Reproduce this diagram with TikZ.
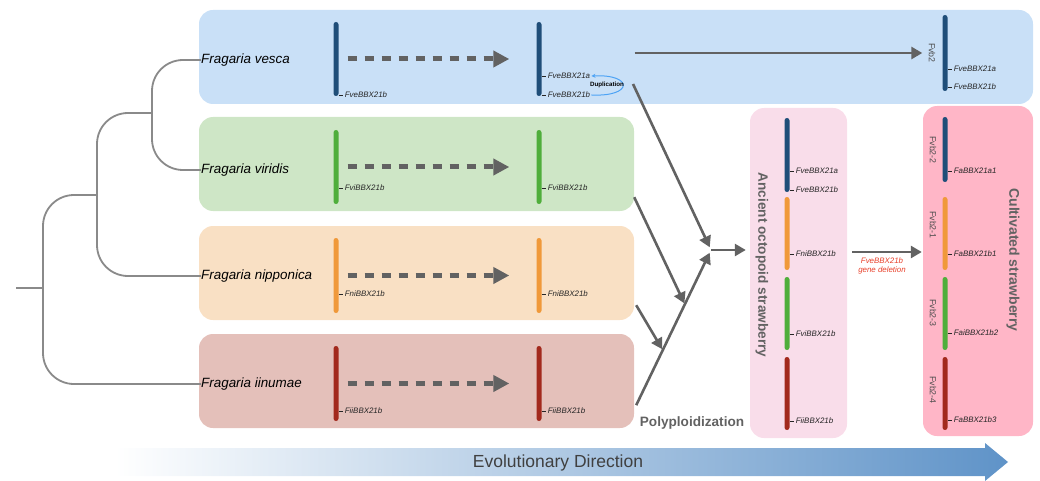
\documentclass[tikz,border=0pt]{standalone}
\usepackage{fontspec}
\setmainfont{Liberation Sans}
\usetikzlibrary{arrows.meta,calc,positioning}
\definecolor{cve}{HTML}{1F4E79}
\definecolor{cvi}{HTML}{4FAE3B}
\definecolor{cni}{HTML}{F0993A}
\definecolor{cii}{HTML}{A2291D}
\definecolor{pbve}{HTML}{C9E0F7}
\definecolor{pbvi}{HTML}{CEE6C6}
\definecolor{pbni}{HTML}{F9E0C4}
\definecolor{pbii}{HTML}{E4C0BA}
\definecolor{pban}{HTML}{F9DDEA}
\definecolor{pbcu}{HTML}{FFB6C7}
\definecolor{arrgray}{HTML}{626262}
\definecolor{treegray}{HTML}{8A8A8A}
\definecolor{dupblue}{HTML}{4DA3F5}
\definecolor{delred}{HTML}{E8402A}
\definecolor{evob}{HTML}{5F93C8}
\tikzset{
  panel/.style={rectangle, rounded corners=14pt, draw=none, inner sep=0pt},
  chrom/.style={rectangle, rounded corners=2.5pt, minimum width=5pt, inner sep=0pt},
  species/.style={anchor=west, inner sep=0pt, font=\fontsize{13.4}{15}\selectfont\itshape},
  gene/.style={anchor=west, inner sep=0pt, text=black!85, font=\fontsize{7.9}{9}\selectfont\itshape},
  gtick/.style={line width=0.8pt, black!85},
  chrlab/.style={inner sep=0pt, text=black!70, font=\fontsize{8.8}{10}\selectfont},
  title/.style={inner sep=0pt, text=arrgray, font=\fontsize{13.6}{15}\selectfont\bfseries},
  tree/.style={line width=1.8pt, treegray, rounded corners=31pt},
  arr/.style={line width=2.6pt, arrgray, -{Triangle[length=11pt,width=12pt]}},
  dasharr/.style={line width=5pt, arrgray, dash pattern=on 9pt off 8pt,
    -{Triangle[length=16pt,width=16pt]}, shorten <=9pt, shorten >=27pt},
  dup/.style={line width=1pt, dupblue, -{Stealth[length=4pt,width=4pt]}}
}
\newcommand\genelabel[3]{\draw[gtick] (#1) -- ++(4,0) node[gene, right=2pt] (#3) {#2};}
\begin{document}
\begin{tikzpicture}[x=1pt, y=-1pt]
\useasboundingbox (0,0) rectangle (1040,481);
\node[panel, fill=pbve, minimum width=834pt, minimum height=94pt] (pve) at (616,57) {};
\node[panel, fill=pbvi, minimum width=435pt, minimum height=94pt] (pvi) at (416.5,164) {};
\node[panel, fill=pbni, minimum width=435pt, minimum height=94pt] (pni) at (416.5,273) {};
\node[panel, fill=pbii, minimum width=435pt, minimum height=94pt] (pii) at (416.5,381) {};
\node[panel, fill=pban, minimum width=97pt, minimum height=330pt] (pan) at (798.5,273) {};
\node[panel, fill=pbcu, minimum width=110pt, minimum height=330pt] (pcu) at (978,271) {};

\node[species] (vesca) at (201,60) {Fragaria vesca};
\node[species] (viridis) at (201,170) {Fragaria viridis};
\node[species] (nipponica) at (201,276) {Fragaria nipponica};
\node[species] (iinumae) at (201,384) {Fragaria iinumae};

\coordinate (t1) at (152,113);
\coordinate (t2) at (97,195);
\coordinate (t3) at (43,288);
\coordinate (root) at (16,288);
\draw[tree] (vesca.west) -| (viridis.west -| t1) -- (viridis.west);
\draw[tree] (t1) -| (nipponica.west -| t2) -- (nipponica.west);
\draw[tree] (t2) -| (iinumae.west -| t3) -- (iinumae.west);
\draw[tree] (t3) -- (root);

\node[chrom, fill=cve, minimum height=74pt] (ve1) at (336,59) {};
\node[chrom, fill=cve, minimum height=74pt] (ve2) at (539,59) {};
\node[chrom, fill=cve, minimum height=76pt] (ve3) at (945,53) {};
\node[chrom, fill=cvi, minimum height=74pt] (vi1) at (336,167) {};
\node[chrom, fill=cvi, minimum height=74pt] (vi2) at (539,167) {};
\node[chrom, fill=cni, minimum height=75pt] (ni1) at (336,275.5) {};
\node[chrom, fill=cni, minimum height=75pt] (ni2) at (539,275.5) {};
\node[chrom, fill=cii, minimum height=75pt] (ii1) at (336,383.5) {};
\node[chrom, fill=cii, minimum height=75pt] (ii2) at (539,383.5) {};
\node[chrom, fill=cve, minimum height=74pt] (an1) at (787,155) {};
\node[chrom, fill=cni, minimum height=73pt] (an2) at (787,233.5) {};
\node[chrom, fill=cvi, minimum height=73pt] (an3) at (787,313.5) {};
\node[chrom, fill=cii, minimum height=73pt] (an4) at (787,393.5) {};
\node[chrom, fill=cve, minimum height=65pt] (cu1) at (945,149.5) {};
\node[chrom, fill=cni, minimum height=73pt] (cu2) at (945,233.5) {};
\node[chrom, fill=cvi, minimum height=73pt] (cu3) at (945,313.5) {};
\node[chrom, fill=cii, minimum height=73pt] (cu4) at (945,393.5) {};

\genelabel{338.5,95}{FveBBX21b}{g-ve1}
\genelabel{541.5,76}{FveBBX21a}{g-ve2a}
\genelabel{541.5,95}{FveBBX21b}{g-ve2b}
\genelabel{947.5,69}{FveBBX21a}{g-ve3a}
\genelabel{947.5,87}{FveBBX21b}{g-ve3b}
\genelabel{338.5,188}{FviBBX21b}{g-vi1}
\genelabel{541.5,188}{FviBBX21b}{g-vi2}
\genelabel{338.5,294}{FniBBX21b}{g-ni1}
\genelabel{541.5,294}{FniBBX21b}{g-ni2}
\genelabel{338.5,411}{FiiBBX21b}{g-ii1}
\genelabel{541.5,411}{FiiBBX21b}{g-ii2}
\genelabel{789.5,171}{FveBBX21a}{g-an1a}
\genelabel{789.5,190}{FveBBX21b}{g-an1b}
\genelabel{789.5,254}{FniBBX21b}{g-an2}
\genelabel{789.5,334}{FviBBX21b}{g-an3}
\genelabel{789.5,421}{FiiBBX21b}{g-an4}
\genelabel{947.5,171}{FaBBX21a1}{g-cu1}
\genelabel{947.5,254}{FaBBX21b1}{g-cu2}
\genelabel{947.5,333}{FaiBBX21b2}{g-cu3}
\genelabel{947.5,420}{FaBBX21b3}{g-cu4}

\node[chrlab, rotate=-90] (fvb2) at (932,53) {Fvb2};
\node[chrlab, rotate=-90] (fvb22) at (933,150) {Fvb2-2};
\node[chrlab, rotate=-90] (fvb21) at (933,225) {Fvb2-1};
\node[chrlab, rotate=-90] (fvb23) at (933,313) {Fvb2-3};
\node[chrlab, rotate=-90] (fvb24) at (933,390) {Fvb2-4};

\draw[dasharr] (ve1) -- (ve2);
\draw[dasharr] (vi1) -- (vi2);
\draw[dasharr] (ni1) -- (ni2);
\draw[dasharr] (ii1) -- (ii2);
\draw[arr, line width=2.8pt, shorten <=93pt, shorten >=20pt] (ve2.east |- ve3) -- (ve3);

\draw[dup] ([xshift=1pt]g-ve2b.east) .. controls +(42,2) and +(42,-2) .. ([xshift=1pt]g-ve2a.east);
\node[inner sep=0pt, font=\fontsize{6.2}{7}\selectfont\bfseries] (dupl) at (607,84.5) {Duplication};

\coordinate (ve-out) at (633,84);
\coordinate (merge) at (711,250);
\coordinate (ii-out) at ([shift={(2,-23)}]pii.south east);
\draw[arr, shorten >=3pt] (ve-out) -- (merge);
\draw[arr, shorten >=3pt] (ii-out) -- (merge);
\draw[arr, shorten >=1pt] ([shift={(0,-14)}]pvi.south east) -- ($(ii-out)!0.65!(merge)$);
\draw[arr, shorten >=1pt] ([shift={(2,-15)}]pni.south east) -- ($(ii-out)!0.355!(merge)$);
\draw[arr] (merge) -- ([shift={(-4,-23)}]pan.west);
\node[title] (poly) at (692,423) {Polyploidization};
\node[title, rotate=-90] (ancient) at (762,265) {Ancient octopoid strawberry};
\node[title, rotate=-90, font=\fontsize{14}{16}\selectfont\bfseries] (cultivated) at (1013,260) {Cultivated strawberry};

\draw[arr] ([shift={(5,-21)}]pan.east) -- ([shift={(-1,-19)}]pcu.west);
\node[inner sep=0pt, align=center, text=delred, font=\fontsize{7.9}{8.6}\selectfont\itshape] (del) at (882,266) {FveBBX21b\\gene deletion};

\shade[left color=white, right color=evob] (115,448) -- (985,448) -- (985,443) -- (1008,462) -- (985,481) -- (985,476) -- (115,476) -- cycle;
\node[inner sep=0pt, text=black!75, font=\fontsize{17.5}{20}\selectfont] (evo) at (558,463) {Evolutionary Direction};
\end{tikzpicture}
\end{document}
